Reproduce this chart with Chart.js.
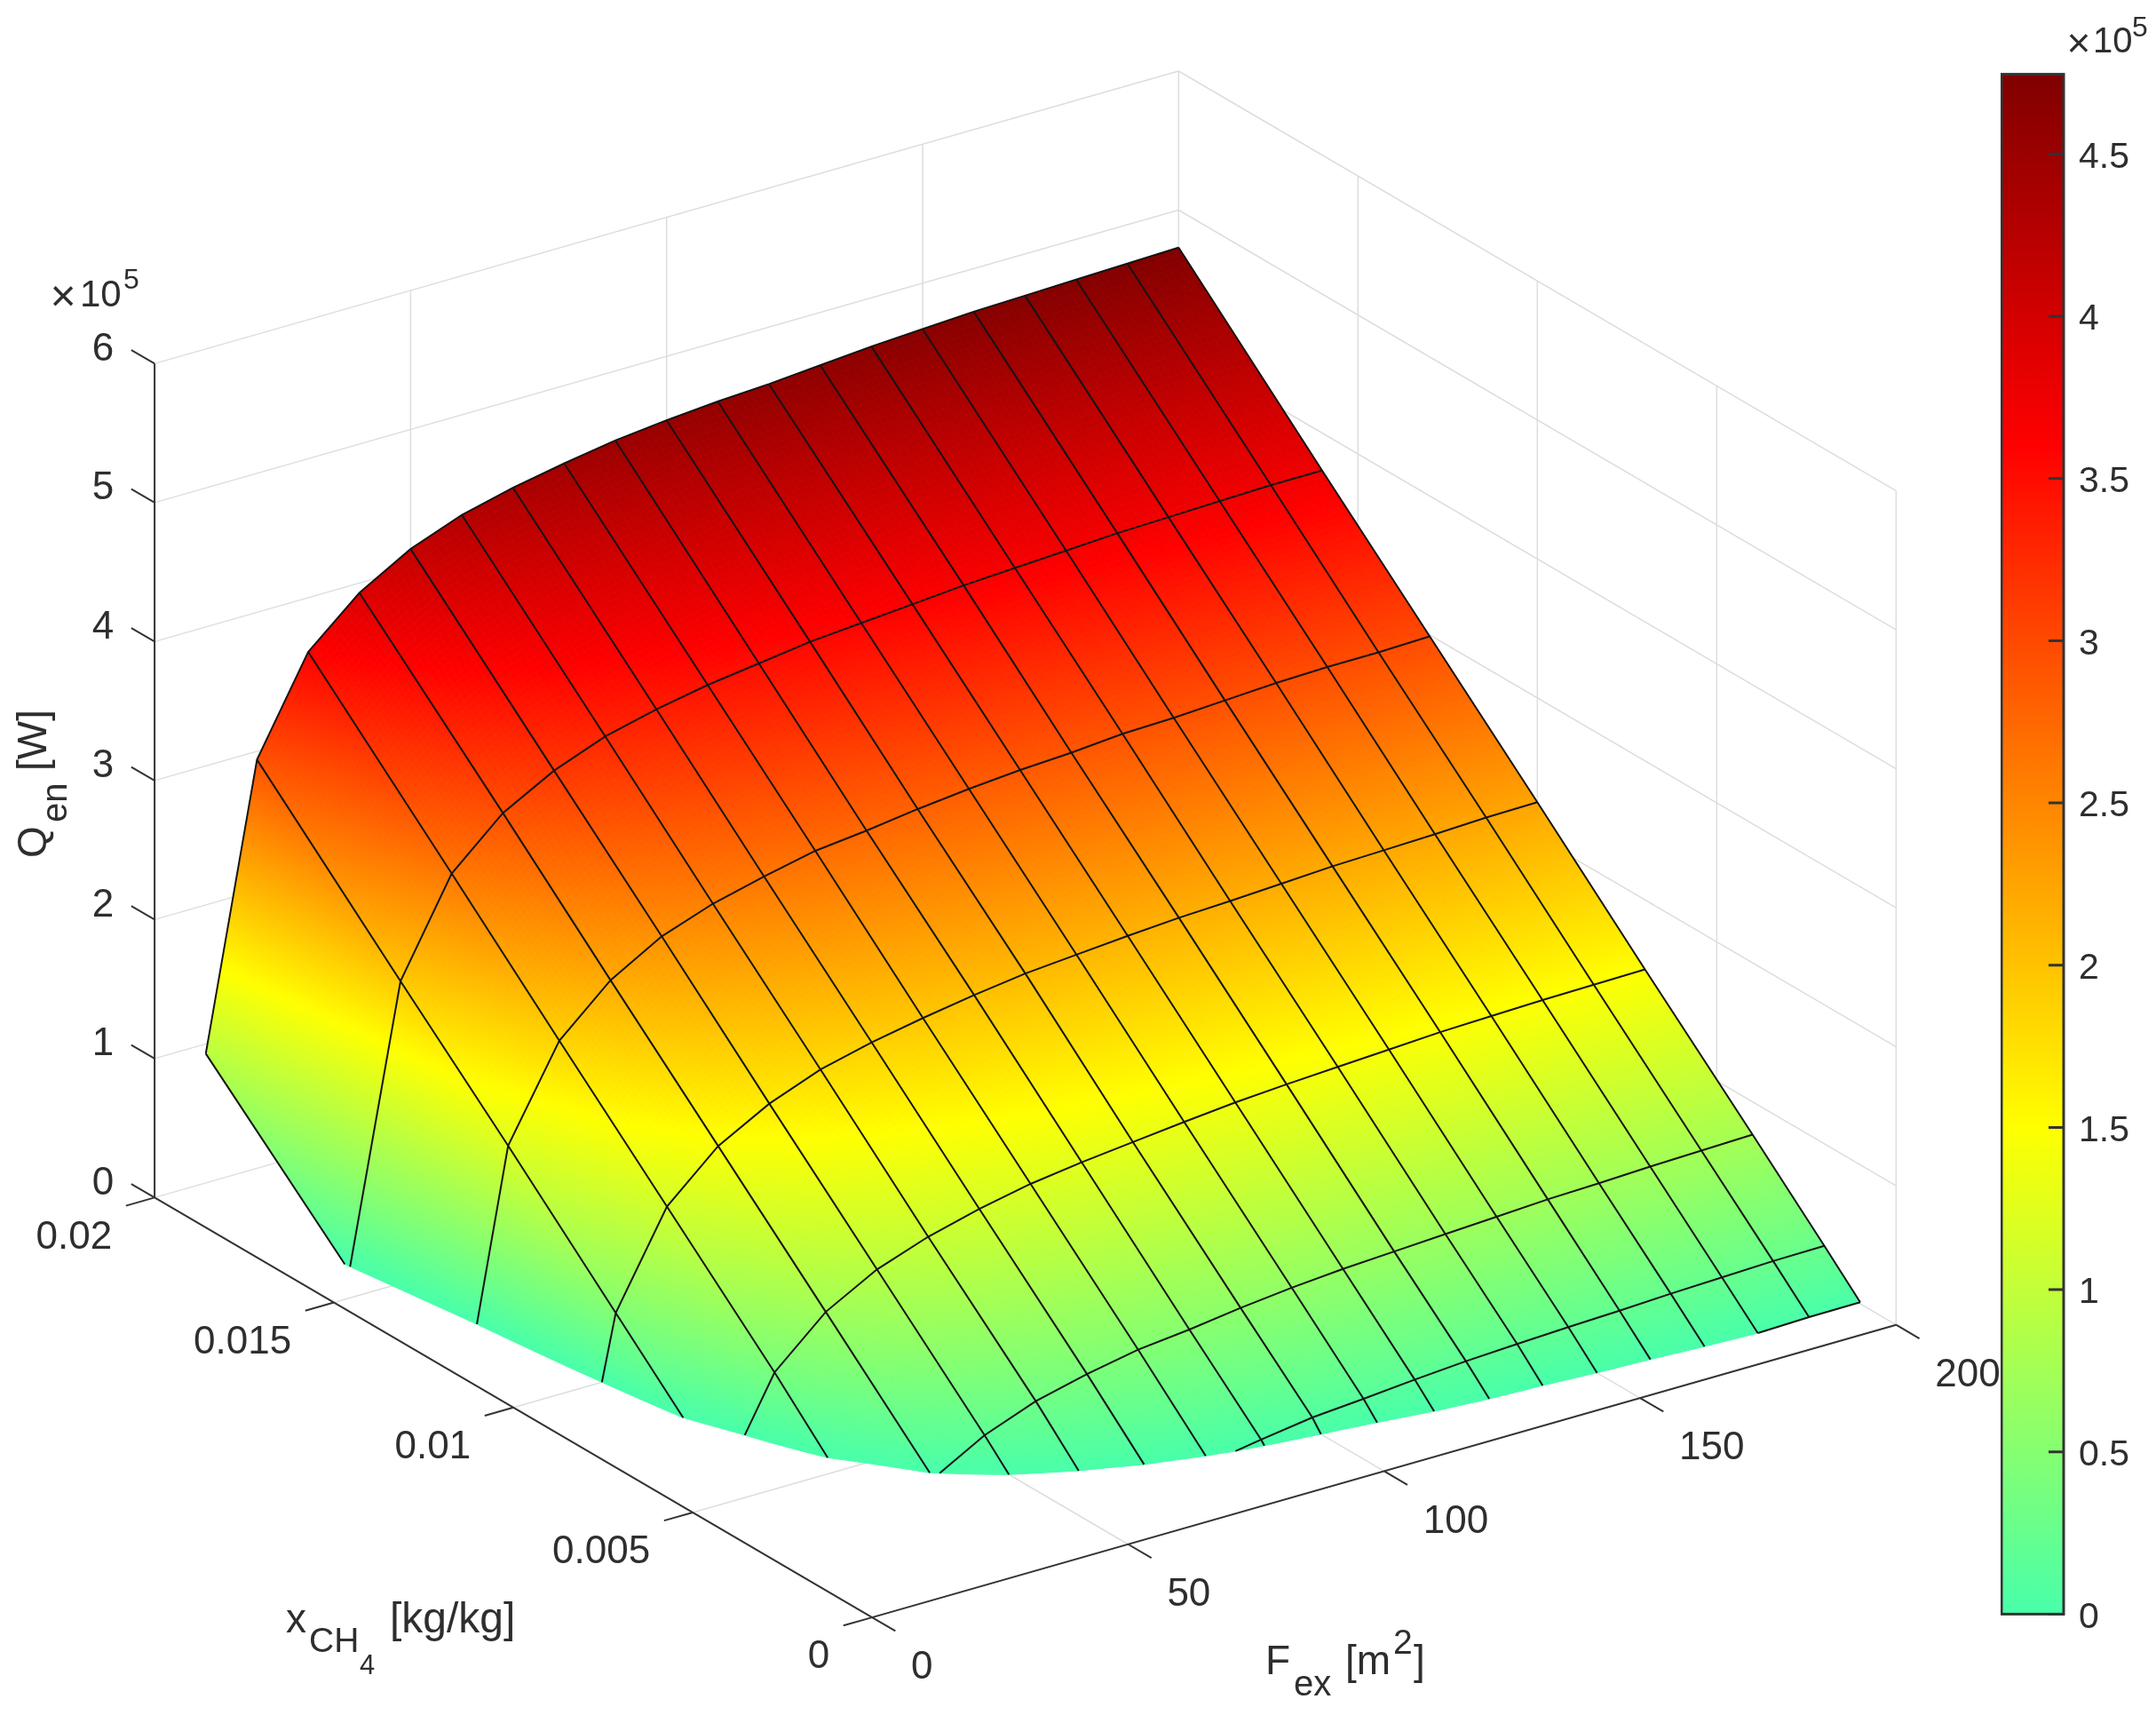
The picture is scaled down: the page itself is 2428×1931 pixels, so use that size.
<!DOCTYPE html>
<html lang="en">
<head>
  <meta charset="UTF-8">
  <title>Qen surface</title>
  <script src="https://cdn.jsdelivr.net/npm/chart.js"></script>
  <style>
    html, body { margin: 0; padding: 0; background: #fff; }
    #wrap { position: relative; width: 2428px; height: 1931px; overflow: hidden; }
    canvas { position: absolute; }
  </style>
</head>
<body>
  <div id="wrap">
    <canvas id="surfaceChart" width="2428" height="1931" style="left:0;top:0"></canvas>
    <canvas id="barChart" width="175" height="1815" style="left:2253px;top:43px"></canvas>
  </div>

  <script>
    // grid of the surface, Q in units of 1e5 W (below 0 is cut off by the z limit)
    const fexValues = [10, 20, 30, 40, 50, 60, 70, 80, 90, 100, 110, 120, 130, 140, 150, 160, 170, 180, 190, 200];
    const xch4Values = [0.02, 0.016, 0.013, 0.01, 0.007, 0.004, 0.002, 0.001];
    const qAtX020 = [0.93, 2.94, 3.61, 3.93, 4.14, 4.28, 4.37, 4.44, 4.50, 4.54, 4.57, 4.59, 4.62, 4.65, 4.67, 4.69, 4.70, 4.71, 4.72, 4.73];
    const qAtX016 = [-0.03, 1.95, 2.62, 2.95, 3.15, 3.29, 3.38, 3.45, 3.50, 3.55, 3.58, 3.61, 3.64, 3.66, 3.68, 3.70, 3.71, 3.72, 3.73, 3.73];
    const qAtX013 = [-0.78, 1.22, 1.87, 2.20, 2.41, 2.54, 2.63, 2.71, 2.75, 2.80, 2.84, 2.87, 2.89, 2.92, 2.93, 2.95, 2.97, 2.98, 2.98, 2.99];
    const qAtX010 = [-1.27, 0.47, 1.13, 1.46, 1.66, 1.80, 1.89, 1.96, 2.02, 2.07, 2.10, 2.13, 2.155, 2.17, 2.19, 2.21, 2.22, 2.23, 2.245, 2.25];
    const qAtX007 = [-1.70, -0.28, 0.39, 0.72, 0.92, 1.05, 1.145, 1.22, 1.27, 1.31, 1.35, 1.385, 1.41, 1.43, 1.45, 1.47, 1.48, 1.49, 1.495, 1.50];
    const qAtX004 = [-2.10, -0.90, -0.40, -0.025, 0.18, 0.32, 0.41, 0.48, 0.52, 0.57, 0.61, 0.64, 0.66, 0.68, 0.70, 0.72, 0.73, 0.745, 0.755, 0.765];
    const qAtX002 = [-2.30, -1.25, -0.75, -0.50, -0.35, -0.215, -0.105, -0.03, 0.03, 0.084, 0.113, 0.146, 0.173, 0.192, 0.208, 0.221, 0.238, 0.25, 0.262, 0.266];
    const qAtX001 = [-2.50, -1.50, -1.10, -0.75, -0.60, -0.47, -0.40, -0.34, -0.30, -0.266, -0.184, -0.124, -0.093, -0.078, -0.052, -0.036, -0.015, 0.0, 0.01, 0.012];
    const qGrid = [qAtX020, qAtX016, qAtX013, qAtX010, qAtX007, qAtX004, qAtX002, qAtX001];

    const fexTicks = [0, 50, 100, 150, 200];
    const xch4Ticks = [0, 0.005, 0.01, 0.015, 0.02];
    const xch4TickLabels = ['0', '0.005', '0.01', '0.015', '0.02'];
    const qTicks = [0, 1, 2, 3, 4, 5, 6];
    const qMax = 4.746;

    // colormap stops, Q value -> rgb
    const colorValues = [0, 1.5, 3.6, 4.746];
    const colorStops = [[72, 255, 170], [255, 255, 0], [255, 0, 0], [128, 0, 0]];

    const textColor = '#2e2e2e';
    const axisColor = '#333333';
    const gridColor = '#dddddd';
    const fontName = '"Liberation Sans", Arial, sans-serif';

    // orthographic view of the 3d box, result is in the 2d scale units
    function project(f, x, q) {
      return {
        x: 982.1 + 5.766 * f - 40400 * x,
        y: 1821.1 - 1.647 * f - 23635 * x - 156.5 * q
      };
    }

    function colorFor(q) {
      const v = Math.max(0, Math.min(qMax, q));
      let k = 0;
      while (k < colorValues.length - 2 && v > colorValues[k + 1]) k++;
      const t = (v - colorValues[k]) / (colorValues[k + 1] - colorValues[k]);
      const c = colorStops[k].map((a, n) => Math.round(a + (colorStops[k + 1][n] - a) * t));
      return `rgb(${c[0]},${c[1]},${c[2]})`;
    }

    const gap = { x: NaN, y: NaN };

    function segment(list, a, b) {
      list.push(project(a[0], a[1], a[2]), project(b[0], b[1], b[2]), gap);
    }

    // light grid on floor and the two back walls
    const gridPoints = [];
    fexTicks.forEach(f => {
      segment(gridPoints, [f, 0, 0], [f, 0.02, 0]);
      segment(gridPoints, [f, 0.02, 0], [f, 0.02, 6]);
    });
    xch4Ticks.forEach(x => {
      segment(gridPoints, [0, x, 0], [200, x, 0]);
      segment(gridPoints, [200, x, 0], [200, x, 6]);
    });
    qTicks.forEach(q => {
      segment(gridPoints, [0, 0.02, q], [200, 0.02, q]);
      segment(gridPoints, [200, 0.02, q], [200, 0, q]);
    });

    // the three dark axis lines and their tick marks
    const axisPoints = [];
    segment(axisPoints, [0, 0.02, 0], [0, 0.02, 6]);
    segment(axisPoints, [0, 0, 0], [0, 0.02, 0]);
    segment(axisPoints, [0, 0, 0], [200, 0, 0]);
    qTicks.forEach(q => segment(axisPoints, [0, 0.02, q], [0, 0.02065, q]));
    xch4Ticks.forEach(x => segment(axisPoints, [0, x, 0], [-5.6, x, 0]));
    fexTicks.forEach(f => segment(axisPoints, [f, 0, 0], [f, -0.00065, 0]));

    // mesh lines, cut where they go under q = 0
    function meshLine(list, a, b) {
      if (a[2] < 0 && b[2] < 0) return;
      let p = a, r = b;
      if (a[2] < 0 || b[2] < 0) {
        const t = a[2] / (a[2] - b[2]);
        const cut = [a[0] + (b[0] - a[0]) * t, a[1] + (b[1] - a[1]) * t, 0];
        if (a[2] < 0) p = cut; else r = cut;
      }
      list.push(project(p[0], p[1], p[2]), project(r[0], r[1], r[2]));
    }

    const meshPoints = [];
    xch4Values.forEach((x, j) => {
      for (let i = 0; i < fexValues.length - 1; i++) {
        meshLine(meshPoints, [fexValues[i], x, qGrid[j][i]], [fexValues[i + 1], x, qGrid[j][i + 1]]);
      }
      meshPoints.push(gap);
    });
    fexValues.forEach((f, i) => {
      for (let j = 0; j < xch4Values.length - 1; j++) {
        meshLine(meshPoints, [f, xch4Values[j], qGrid[j][i]], [f, xch4Values[j + 1], qGrid[j + 1][i]]);
      }
      meshPoints.push(gap);
    });

    // keep only the part of a small cell that is above q = 0
    function clipAboveZero(poly) {
      const out = [];
      for (let n = 0; n < poly.length; n++) {
        const a = poly[n], b = poly[(n + 1) % poly.length];
        if (a[2] >= 0) out.push(a);
        if ((a[2] >= 0) !== (b[2] >= 0)) {
          const t = a[2] / (a[2] - b[2]);
          out.push([a[0] + (b[0] - a[0]) * t, a[1] + (b[1] - a[1]) * t, 0]);
        }
      }
      return out;
    }

    // interpolated shading: each mesh cell is painted as many small flat pieces, back to front
    function paintSurface(chart) {
      const ctx = chart.ctx, sx = chart.scales.x, sy = chart.scales.y;
      ctx.save();
      ctx.lineWidth = 1;
      ctx.lineJoin = 'round';
      for (let j = 0; j < xch4Values.length - 1; j++) {
        for (let i = fexValues.length - 2; i >= 0; i--) {
          const q00 = qGrid[j][i], q10 = qGrid[j][i + 1], q01 = qGrid[j + 1][i], q11 = qGrid[j + 1][i + 1];
          // more pieces where the colour moves fast
          const stepsF = Math.min(120, Math.max(8, Math.ceil(Math.max(Math.abs(q10 - q00), Math.abs(q11 - q01)) * 40)));
          const stepsX = Math.min(120, Math.max(16, Math.ceil(Math.max(Math.abs(q01 - q00), Math.abs(q11 - q10)) * 40)));
          const corner = (s, t) => [
            fexValues[i] + (fexValues[i + 1] - fexValues[i]) * s,
            xch4Values[j] + (xch4Values[j + 1] - xch4Values[j]) * t,
            q00 * (1 - s) * (1 - t) + q10 * s * (1 - t) + q01 * (1 - s) * t + q11 * s * t
          ];
          for (let b = 0; b < stepsX; b++) {
            for (let a = stepsF - 1; a >= 0; a--) {
              const poly = clipAboveZero([
                corner(a / stepsF, b / stepsX),
                corner((a + 1) / stepsF, b / stepsX),
                corner((a + 1) / stepsF, (b + 1) / stepsX),
                corner(a / stepsF, (b + 1) / stepsX)
              ]);
              if (poly.length < 3) continue;
              const mean = poly.reduce((sum, p) => sum + p[2], 0) / poly.length;
              const col = colorFor(mean);
              ctx.fillStyle = col;
              ctx.strokeStyle = col;
              ctx.beginPath();
              poly.forEach((p, n) => {
                const v = project(p[0], p[1], p[2]);
                const px = sx.getPixelForValue(v.x), py = sy.getPixelForValue(v.y);
                if (n === 0) ctx.moveTo(px, py); else ctx.lineTo(px, py);
              });
              ctx.closePath();
              ctx.fill();
              ctx.stroke();
            }
          }
        }
      }
      ctx.restore();
    }

    function put(chart, text, x, y, size, align) {
      const ctx = chart.ctx;
      ctx.font = `${size}px ${fontName}`;
      ctx.textAlign = align || 'left';
      ctx.fillText(text, chart.scales.x.getPixelForValue(x), chart.scales.y.getPixelForValue(y));
    }

    const surfacePlugin = {
      id: 'surfacePlugin',
      afterDatasetDraw(chart, args) {
        if (chart.data.datasets[args.index].label === 'Qen') paintSurface(chart);
      },
      afterDraw(chart) {
        const ctx = chart.ctx;
        ctx.save();
        ctx.fillStyle = textColor;
        ctx.textBaseline = 'middle';
        qTicks.forEach(q => {
          const p = project(0, 0.02, q);
          put(chart, String(q), p.x - 46, p.y - 16, 44, 'right');
        });
        xch4Ticks.forEach((x, n) => {
          const p = project(0, x, 0);
          put(chart, xch4TickLabels[n], p.x - 48, p.y + 45, 44, 'right');
        });
        fexTicks.forEach(f => {
          const p = project(f, 0, 0);
          put(chart, String(f), p.x + 44, p.y + 57, 44, 'left');
        });

        ctx.textBaseline = 'alphabetic';
        // x 10^5 of the z axis and of the colorbar
        put(chart, '\u00d7', 71, 350, 50, 'center');
        put(chart, '10', 90, 345, 42);
        put(chart, '5', 139, 325, 32);
        put(chart, '\u00d7', 2341, 64, 46, 'center');
        put(chart, '10', 2357, 59, 40);
        put(chart, '5', 2401, 41, 32);

        // F_ex [m^2]
        put(chart, 'F', 1425, 1885, 46);
        put(chart, 'ex', 1457, 1909, 40);
        put(chart, '[m', 1515, 1885, 46);
        put(chart, '2', 1569, 1862, 39);
        put(chart, ']', 1592, 1885, 46);

        // x_CH4 [kg/kg]
        put(chart, 'x', 322, 1838, 46);
        put(chart, 'CH', 348, 1860, 39);
        put(chart, '4', 405, 1885, 31);
        put(chart, '[kg/kg]', 439, 1838, 48);

        // Q_en [W], rotated
        const turned = (text, x, y, size) => {
          ctx.save();
          ctx.translate(chart.scales.x.getPixelForValue(x), chart.scales.y.getPixelForValue(y));
          ctx.rotate(-Math.PI / 2);
          ctx.font = `${size}px ${fontName}`;
          ctx.textAlign = 'left';
          ctx.fillText(text, 0, 0);
          ctx.restore();
        };
        turned('Q', 52, 966, 46);
        turned('en', 75, 926, 40);
        turned('[W]', 52, 868, 46);
        ctx.restore();
      }
    };

    new Chart(document.getElementById('surfaceChart'), {
      type: 'scatter',
      data: {
        datasets: [
          { label: 'grid', data: gridPoints, showLine: true, borderColor: gridColor, borderWidth: 1.5, pointRadius: 0, order: 4 },
          { label: 'Qen', data: meshPoints, showLine: false, pointRadius: 0, order: 3 },
          { label: 'mesh', data: meshPoints, showLine: true, borderColor: '#141414', borderWidth: 2, pointRadius: 0, order: 2 },
          { label: 'axes', data: axisPoints, showLine: true, borderColor: axisColor, borderWidth: 2, pointRadius: 0, order: 1 }
        ]
      },
      options: {
        responsive: false,
        animation: false,
        events: [],
        layout: { padding: 0 },
        plugins: { legend: { display: false }, tooltip: { enabled: false }, title: { display: false } },
        scales: {
          x: { type: 'linear', min: 0, max: 2428, display: false },
          y: { type: 'linear', min: 0, max: 1931, reverse: true, display: false }
        }
      },
      plugins: [surfacePlugin]
    });

    // colorbar: one bar on a real value axis
    const barTicks = [0, 0.5, 1, 1.5, 2, 2.5, 3, 3.5, 4, 4.5];

    const barFramePlugin = {
      id: 'barFramePlugin',
      afterDatasetsDraw(chart) {
        const ctx = chart.ctx, a = chart.chartArea, y = chart.scales.y;
        ctx.save();
        ctx.strokeStyle = axisColor;
        ctx.lineWidth = 3;
        ctx.strokeRect(a.left + 1, a.top, a.right - a.left - 2, a.bottom - a.top);
        ctx.beginPath();
        barTicks.forEach(v => {
          const py = y.getPixelForValue(v);
          ctx.moveTo(a.right - 18, py);
          ctx.lineTo(a.right, py);
        });
        ctx.stroke();
        ctx.restore();
      }
    };

    new Chart(document.getElementById('barChart'), {
      type: 'bar',
      data: {
        labels: ['Qen'],
        datasets: [{
          data: [qMax],
          barPercentage: 1,
          categoryPercentage: 1,
          borderWidth: 0,
          backgroundColor(context) {
            const { chart } = context;
            if (!chart.chartArea) return colorFor(0);
            const y = chart.scales.y;
            const g = chart.ctx.createLinearGradient(0, y.getPixelForValue(0), 0, y.getPixelForValue(qMax));
            colorValues.forEach(v => g.addColorStop(v / qMax, colorFor(v)));
            return g;
          }
        }]
      },
      options: {
        responsive: false,
        animation: false,
        events: [],
        layout: { padding: { top: 40, bottom: 40, left: 0, right: 0 } },
        plugins: { legend: { display: false }, tooltip: { enabled: false } },
        scales: {
          x: { display: false },
          y: {
            position: 'right',
            min: 0,
            max: qMax,
            afterBuildTicks(axis) { axis.ticks = barTicks.map(v => ({ value: v })); },
            afterFit(axis) { axis.width = 103; },
            grid: { display: false, drawTicks: false },
            border: { display: false },
            ticks: {
              padding: 16,
              autoSkip: false,
              labelOffset: 4,
              color: textColor,
              font: { size: 41, family: fontName },
              callback: v => String(v)
            }
          }
        }
      },
      plugins: [barFramePlugin]
    });
  </script>
</body>
</html>
